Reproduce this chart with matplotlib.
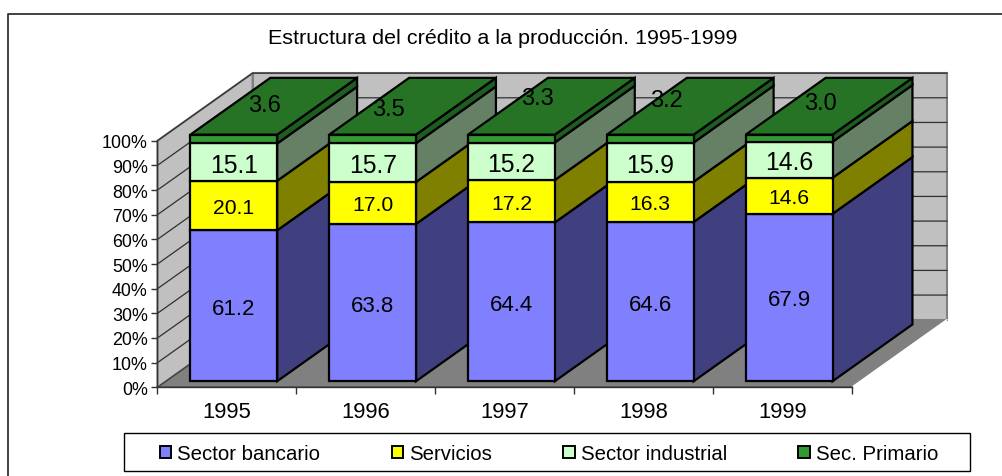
import matplotlib
matplotlib.use("Agg")
import matplotlib.pyplot as plt
from matplotlib.lines import Line2D
from matplotlib.patches import Patch, Polygon, Rectangle

plt.rcParams["font.family"] = ["Liberation Sans", "DejaVu Sans"]

# --- data ---
years = ["1995", "1996", "1997", "1998", "1999"]
bancario = [61.2, 63.8, 64.4, 64.6, 67.9]
servicios = [20.1, 17.0, 17.2, 16.3, 14.6]
industrial = [15.1, 15.7, 15.2, 15.9, 14.6]
primario = [3.6, 3.5, 3.3, 3.2, 3.0]
series_names = ["Sector bancario", "Servicios", "Sector industrial", "Sec. Primario"]
title = "Estructura del crédito a la producción. 1995-1999"

# --- style ---
W, H = 1003, 477
front_cols = ["#8080FF", "#FFFF00", "#CCFFCC", "#339933"]
side_cols = ["#404080", "#808000", "#668066", "#1F5C1F"]
top_col = "#267326"
label_sizes = [16.0, 15.2, 17.8, 17.0]
# oblique projection in data units per unit of depth
DX, DY = 0.685, 27.4
BAR_W = 0.625
BAR_SHIFT = -0.012
D0, D1 = 0.09, 0.93
# manual placement of the top-series labels (pixels from the front-face centre)
top_label_offsets = [(31, 37), (16, 32), (26, 43), (16, 41), (31, 38)]

fig = plt.figure(figsize=(W / 100, H / 100), dpi=100, facecolor="white")
ax = fig.add_axes([157.5 / W, 1 - 388.3 / H, (851.7 - 157.5) / W, (388.3 - 141.7) / H])
ax.set_xlim(-0.5, len(years) - 0.5)
ax.set_ylim(0, 100)
ax.patch.set_visible(False)


def P(x, y, d=0.0):
    return (x + d * DX, y + d * DY)


def poly(pts, fc, ec="none", lw=0, z=1):
    ax.add_patch(Polygon(pts, closed=True, facecolor=fc, edgecolor=ec, linewidth=lw,
                         zorder=z, clip_on=False, joinstyle="miter"))


# frame of the chart area: open on the right and at the bottom
fig.add_artist(Line2D([8.5 / W, 8.5 / W, 1.0],
                      [0, 1 - 15 / H, 1 - 15 / H], color="#333333", lw=1.3))

x0, x1 = -0.5, len(years) - 0.5
# walls and floor
poly([P(x0, 0), P(x0, 100), P(x0, 100, 1), P(x0, 0, 1)], "#C0C0C0", "#808080", 1.5, 1)
poly([P(x0, 0, 1), P(x0, 100, 1), P(x1, 100, 1), P(x1, 0, 1)], "#C0C0C0", "#808080", 1.5, 1)
poly([P(x0, 0), P(x0, 0, 1), P(x1, 0, 1), P(x1, 0)], "#808080", "none", 0, 1.1)
ax.plot(*zip(P(x1, 0), P(x1, 0, 1)), color="white", lw=1, zorder=1.2, clip_on=False)
ax.plot(*zip(P(x0, 0), P(x1, 0)), color="#555555", lw=1.2, zorder=1.2, clip_on=False)
ax.plot(*zip(P(x0, 0), P(x0, 0, 1)), color="#404040", lw=1, zorder=1.2, clip_on=False)
for g in range(10, 101, 10):
    ax.plot(*zip(P(x0, g), P(x0, g, 1), P(x1, g, 1)), color="#303030", lw=0.9,
            zorder=1.3, clip_on=False, solid_joinstyle="miter")

# bars: oblique stacked boxes, left to right
EC, LW = "black", 1.6
stacks = [bancario, servicios, industrial, primario]
z = 2.0
for i, yr in enumerate(years):
    c = i + BAR_SHIFT
    l, r = c - BAR_W / 2, c + BAR_W / 2
    base = 0.0
    for s, vals in enumerate(stacks):
        top = base + vals[i]
        top = min(top, 100.0)
        poly([P(r, base, D0), P(r, top, D0), P(r, top, D1), P(r, base, D1)],
             side_cols[s], EC, LW, z)
        poly([P(l, base, D0), P(r, base, D0), P(r, top, D0), P(l, top, D0)],
             front_cols[s], EC, LW, z)
        if s == len(stacks) - 1:
            poly([P(l, top, D0), P(r, top, D0), P(r, top, D1), P(l, top, D1)],
                 top_col, EC, LW, z)
        lx, ly = P(c, (base + top) / 2, D0)
        off = top_label_offsets[i] if s == len(stacks) - 1 else (0, 0)
        ax.annotate(f"{vals[i]:.1f}", (lx, ly), xytext=off, textcoords="offset pixels",
                    ha="center", va="center_baseline", fontsize=label_sizes[s],
                    color="black", zorder=20, annotation_clip=False)
        base = top
        z += 0.01

# axes
for sp in ("top", "right"):
    ax.spines[sp].set_visible(False)
for sp in ("left", "bottom"):
    ax.spines[sp].set_color("#333333")
    ax.spines[sp].set_linewidth(1.0)
    ax.spines[sp].set_zorder(3)
ax.set_yticks(range(0, 101, 10))
ax.set_yticklabels([f"{v}%" for v in range(0, 101, 10)], fontsize=12.9, color="black")
ax.set_xticks(range(len(years)))
ax.set_xticklabels(years, fontsize=15.8)
ax.set_xticks([i - 0.5 for i in range(len(years) + 1)], minor=True)
ax.tick_params(axis="x", which="major", length=0, pad=10)
ax.tick_params(axis="x", which="minor", length=5, width=1, color="#333333")
ax.tick_params(axis="y", length=4, width=1, color="#333333", pad=3)

fig.text(502.5 / W, 1 - 38 / H, title, ha="center", va="center", fontsize=15.45, color="black")

# legend box drawn separately: its padding is wider than the text height allows
fig.add_artist(Rectangle((124.5 / W, 1 - 471.5 / H), 846 / W, 37.5 / H,
                         transform=fig.transFigure, facecolor="white",
                         edgecolor="black", linewidth=1.0, zorder=5))
handles = [Patch(facecolor=c, edgecolor="black", linewidth=1.4) for c in front_cols]
leg = fig.legend(handles, series_names, ncol=4, loc="center",
                 bbox_to_anchor=(549 / W, 1 - 455 / H), bbox_transform=fig.transFigure,
                 frameon=False, fontsize=14.7, borderaxespad=0, borderpad=0,
                 handlelength=0.55, handleheight=0.55, handletextpad=0.3,
                 columnspacing=3.5)
leg.set_zorder(6)

fig.savefig("out.png", dpi=100)
